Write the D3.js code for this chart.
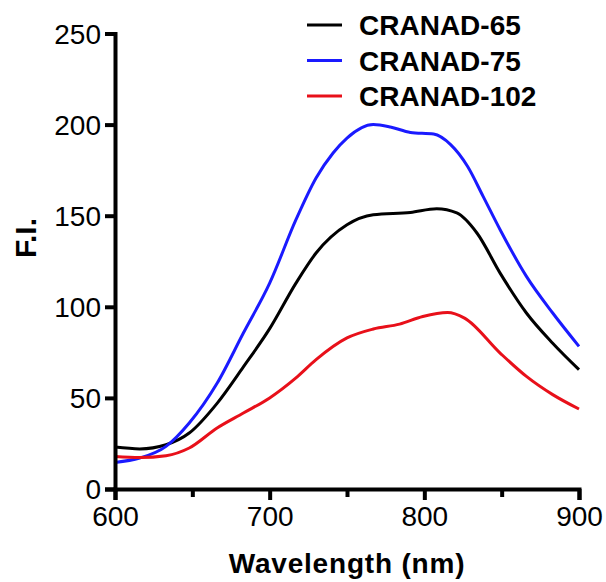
<!DOCTYPE html>
<html>
<head>
<meta charset="utf-8">
<script src="https://cdn.jsdelivr.net/npm/d3@7"></script>
<style>
  body { margin: 0; background: #fff; }
  svg { font-family: "Liberation Sans", Arial, sans-serif; }
</style>
</head>
<body>
<div id="chart"></div>
<script>
// series (wavelength nm, F.I.)
var seriesNames = ['CRANAD-65', 'CRANAD-75', 'CRANAD-102'];
var seriesColors = ['#000000', '#1a1aff', '#e8101a'];

var cranad65 = [[600, 23], [616, 22], [633, 24.3], [648, 30.7], [666, 47], [683, 67], [700, 88],
  [717, 113], [730, 129.5], [750, 145], [767, 150.5], [791, 151.8], [808, 153.8], [821, 151.5],
  [834, 140.5], [849, 118.5], [866, 96.6], [883, 80], [900, 65.5]];
var cranad75 = [[600, 14.6], [616, 17], [633, 23.4], [648, 36.2], [666, 58], [683, 85.6], [700, 113],
  [717, 147.8], [730, 170.7], [741, 184.4], [750, 192.6], [767, 200], [778, 198.7], [791, 195.7],
  [806, 194.8], [817, 189], [828, 177], [838, 160.6], [849, 142.3], [866, 116.7], [883, 96.6], [900, 78.3]];
var cranad102 = [[600, 17.9], [616, 17.3], [633, 18.3], [648, 22.5], [666, 33.5], [683, 41.7], [700, 50],
  [717, 61], [730, 71], [750, 82.9], [767, 87.8], [784, 90.5], [799, 94.7], [815, 96.9], [826, 93.8],
  [849, 74.6], [866, 61.8], [883, 51.8], [900, 43.9]];

var yTicks = [0, 50, 100, 150, 200, 250];
var xMajorTicks = [600, 700, 800, 900];
var xMinorTicks = [650, 750, 850];

var allSeries = [cranad65, cranad75, cranad102];

var width = 606, height = 582;
var svg = d3.select('#chart').append('svg')
  .attr('width', width)
  .attr('height', height);

var x = d3.scaleLinear().domain([600, 900]).range([115, 579]);
var y = d3.scaleLinear().domain([0, 250]).range([489, 33.5]);

var line = d3.line()
  .x(function (d) { return x(d[0]); })
  .y(function (d) { return y(d[1]); })
  .curve(d3.curveMonotoneX);

// curves
svg.append('g').selectAll('path')
  .data(allSeries)
  .enter().append('path')
  .attr('d', line)
  .attr('fill', 'none')
  .attr('stroke', function (d, i) { return seriesColors[i]; })
  .attr('stroke-width', 3);

// y axis
var yAxis = svg.append('g')
  .attr('transform', 'translate(' + x(600) + ',0)')
  .call(d3.axisLeft(y).tickValues(yTicks).tickSize(10).tickPadding(4));

// x axis, major then minor
var xAxis = svg.append('g')
  .attr('transform', 'translate(0,' + y(0) + ')')
  .call(d3.axisBottom(x).tickValues(xMajorTicks).tickSize(11).tickPadding(6));
svg.append('g')
  .attr('transform', 'translate(0,' + y(0) + ')')
  .call(d3.axisBottom(x).tickValues(xMinorTicks).tickSize(8).tickFormat(''))
  .select('.domain').remove();

svg.selectAll('.domain')
  .attr('stroke', '#000')
  .attr('stroke-width', 4);
svg.selectAll('.tick line')
  .attr('stroke', '#000')
  .attr('stroke-width', 4);
svg.selectAll('.tick text')
  .attr('fill', '#000')
  .style('font-size', '28px');
yAxis.selectAll('.tick text').attr('dy', '0.35em');

// axis titles
svg.append('text')
  .attr('x', 347)
  .attr('y', 573)
  .attr('text-anchor', 'middle')
  .style('font-size', '28px')
  .style('letter-spacing', '0.8px')
  .style('font-weight', 'bold')
  .text('Wavelength (nm)');

svg.append('text')
  .attr('transform', 'translate(36,238) rotate(-90)')
  .attr('text-anchor', 'middle')
  .style('font-size', '30px')
  .style('font-weight', 'bold')
  .text('F.I.');

// legend
var legend = svg.append('g').selectAll('g')
  .data(seriesNames)
  .enter().append('g')
  .attr('transform', function (d, i) { return 'translate(307,' + (25 + i * 35.5) + ')'; });
legend.append('line')
  .attr('x1', 0).attr('x2', 35)
  .attr('stroke', function (d, i) { return seriesColors[i]; })
  .attr('stroke-width', 3);
legend.append('text')
  .attr('x', 52)
  .attr('dy', '0.36em')
  .style('font-size', '28px')
  .style('font-weight', 'bold')
  .text(function (d) { return d; });
</script>
</body>
</html>
